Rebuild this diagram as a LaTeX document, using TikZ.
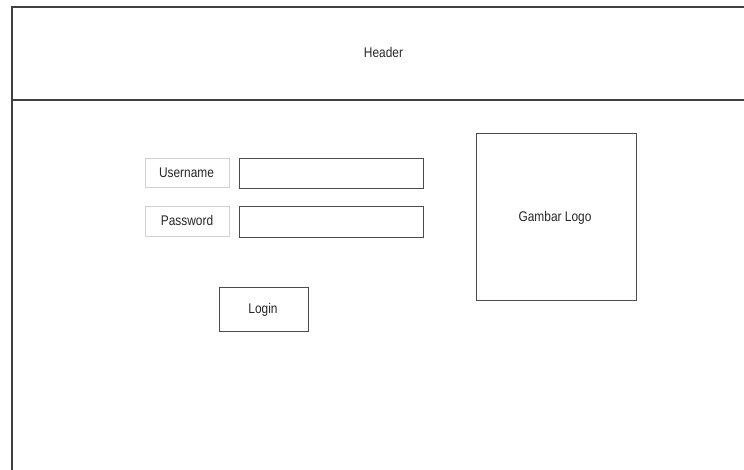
\documentclass[tikz,border=0pt]{standalone}
\usepackage{fontspec}
\setmainfont{Liberation Sans}[FakeStretch=0.85]
\begin{document}
\begin{tikzpicture}[x=1pt,y=-1pt,
  frame/.style={draw=black!75,line width=1.2pt},
  field/.style={draw=black!70,line width=1pt,fill=white},
  lbl/.style={draw=black!18,line width=1pt,fill=white},
  txt/.style={text=black!85,font=\fontsize{14}{16}\selectfont,inner sep=0pt,anchor=base}]
\useasboundingbox[fill=white] (0,0) rectangle (744,470);
% header and body
\draw[frame] (750,7) -- (12,7) -- (12,100) -- (750,100);
\draw[frame] (12,101.5) -- (12,480);
\node[txt] (header) at (383.5,58) {Header};
% labels
\draw[lbl] (145,159) rectangle (229,188);
\node[txt] (user) at (186.5,177.7) {Username};
\draw[lbl] (145,207) rectangle (229,237);
\node[txt] (pass) at (187,226) {Password};
% fields
\draw[field] (239,159) rectangle (423,189);
\draw[field] (239,207) rectangle (423,238);
% login
\draw[field] (219,288) rectangle (308,331);
\node[txt] (login) at (263,313.3) {Login};
% logo
\draw[field] (476,134) rectangle (636,300);
\node[txt] (logo) at (555,221.5) {Gambar Logo};
\end{tikzpicture}
\end{document}
